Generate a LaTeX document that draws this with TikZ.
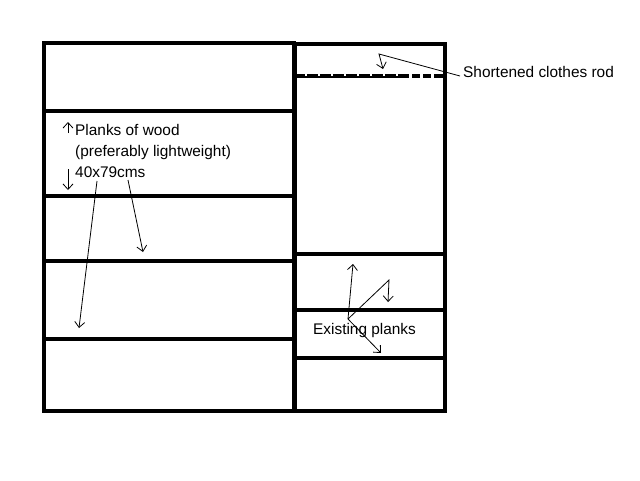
\documentclass[tikz,border=0pt]{standalone}
\usepackage{fontspec}
\setmainfont{Liberation Sans}
\usetikzlibrary{arrows.meta}
\tikzset{every node/.append style={font=\fontsize{15.4}{18}\selectfont, inner sep=0pt, anchor=base west}}
\tikzset{board/.style={line width=4pt}, pointer/.style={line width=0.8pt}}

\begin{document}
\begin{tikzpicture}[x=1pt, y=-1pt, >={Straight Barb[length=5.5pt,width=10pt]}]
    \useasboundingbox (0,0) rectangle (640,480);
    % left cabinet and the new planks
    \draw[board] (44,43) rectangle (294,411);
    \foreach \y in {111,196,261,339} {
        \draw[board] (44,\y) -- (294,\y);
    }
    % right cabinet and the existing planks
    \draw[board] (295,44) rectangle (445,411);
    \foreach \y in {254,310,358} {
        \draw[board] (295,\y) -- (445,\y);
    }
    % clothes rod
    \draw[board] (297,76) -- (443,76);
    \draw[white, line width=1.2pt, dash pattern=on 1.5pt off 11.5pt] (305,75) -- (404,75);
    \foreach \x in {409,420,431} \fill[white] (\x,74) rectangle ++(2.5,4);
    % labels
    \node (planksA) at (75,135) {Planks of wood};
    \node (planksB) at (75,156) {(preferably lightweight)};
    \node (planksC) at (75,177) {40x79cms};
    \node (existing) at (313,334) {Existing planks};
    \node (rod) at (463,77) {Shortened clothes rod};
    % pointers of the planks label
    \coordinate (upTail) at (68,133);
    \coordinate (upTip) at (68,122);
    \coordinate (downTail) at (68,169);
    \coordinate (downTip) at (68,190);
    \coordinate (longTail) at (97,181);
    \coordinate (longTip) at (79,328);
    \coordinate (shortTail) at (128,180);
    \coordinate (shortTip) at (143,252);
    \draw[pointer, ->] (upTail) -- (upTip);
    \draw[pointer, ->] (downTail) -- (downTip);
    \draw[pointer, ->] (longTail) -- (longTip);
    \draw[pointer, ->] (shortTail) -- (shortTip);
    % pointers of the existing planks
    \coordinate (hub) at (348,319);
    \coordinate (hubUp) at (353,264);
    \coordinate (hubBend) at (389,280);
    \coordinate (hubMid) at (388,302);
    \coordinate (hubLow) at (381,353);
    \draw[pointer, ->] (hub) -- (hubUp);
    \draw[pointer, ->] (hub) -- (hubBend) -- (hubMid);
    \draw[pointer, ->] (hub) -- (hubLow);
    % pointer of the rod
    \coordinate (rodTail) at (460,76);
    \coordinate (rodBend) at (379,54);
    \coordinate (rodTip) at (383,69);
    \draw[pointer, ->] (rodTail) -- (rodBend) -- (rodTip);
\end{tikzpicture}
\end{document}
